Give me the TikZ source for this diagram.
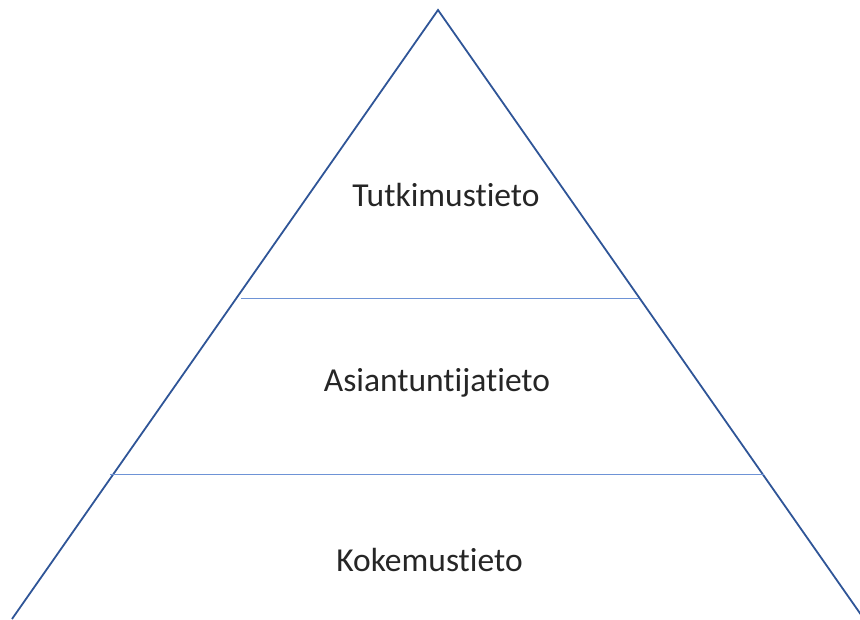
\documentclass[tikz,border=0pt]{standalone}
\usepackage{fontspec}
\setmainfont{Carlito}[Ligatures=NoCommon]
\usepackage{xcolor}
\usetikzlibrary{positioning}
\usetikzlibrary{calc}
\definecolor{edgeBlue}{HTML}{2F5597}
\definecolor{layerBlue}{HTML}{6E93D6}

\begin{document}
\begin{tikzpicture}[x=1pt, y=-1pt,
	level/.style={anchor=base, font=\fontsize{33.5}{40}\selectfont, text=black!85, inner sep=0pt},
	divider/.style={draw=layerBlue, line width=0.9pt},
	pyramid/.style={draw=edgeBlue, line width=1.8pt, line join=miter}]
	\useasboundingbox (0,0) rectangle (860,619);
	\clip (0,0) rectangle (860,619);
	\coordinate (apex) at (438,10);
	\coordinate (baseL) at (12,619);
	\coordinate (baseR) at (864,619);
	\draw[pyramid] (baseL) -- (apex) -- (baseR);
	% layer borders
	\coordinate (upperL) at (241,298);
	\coordinate (upperR) at (639,298);
	\coordinate (lowerL) at (110,474);
	\coordinate (lowerR) at (764,474);
	\draw[divider] (upperL) -- (upperR);
	\draw[divider] (lowerL) -- (lowerR);
	\node[level] (research) at (446,206) {Tutkimustieto};
	\node[level] (expert) at (437,391) {Asiantuntijatieto};
	\node[level] (experience) at (429.5,571) {Kokemustieto};
\end{tikzpicture}
\end{document}
